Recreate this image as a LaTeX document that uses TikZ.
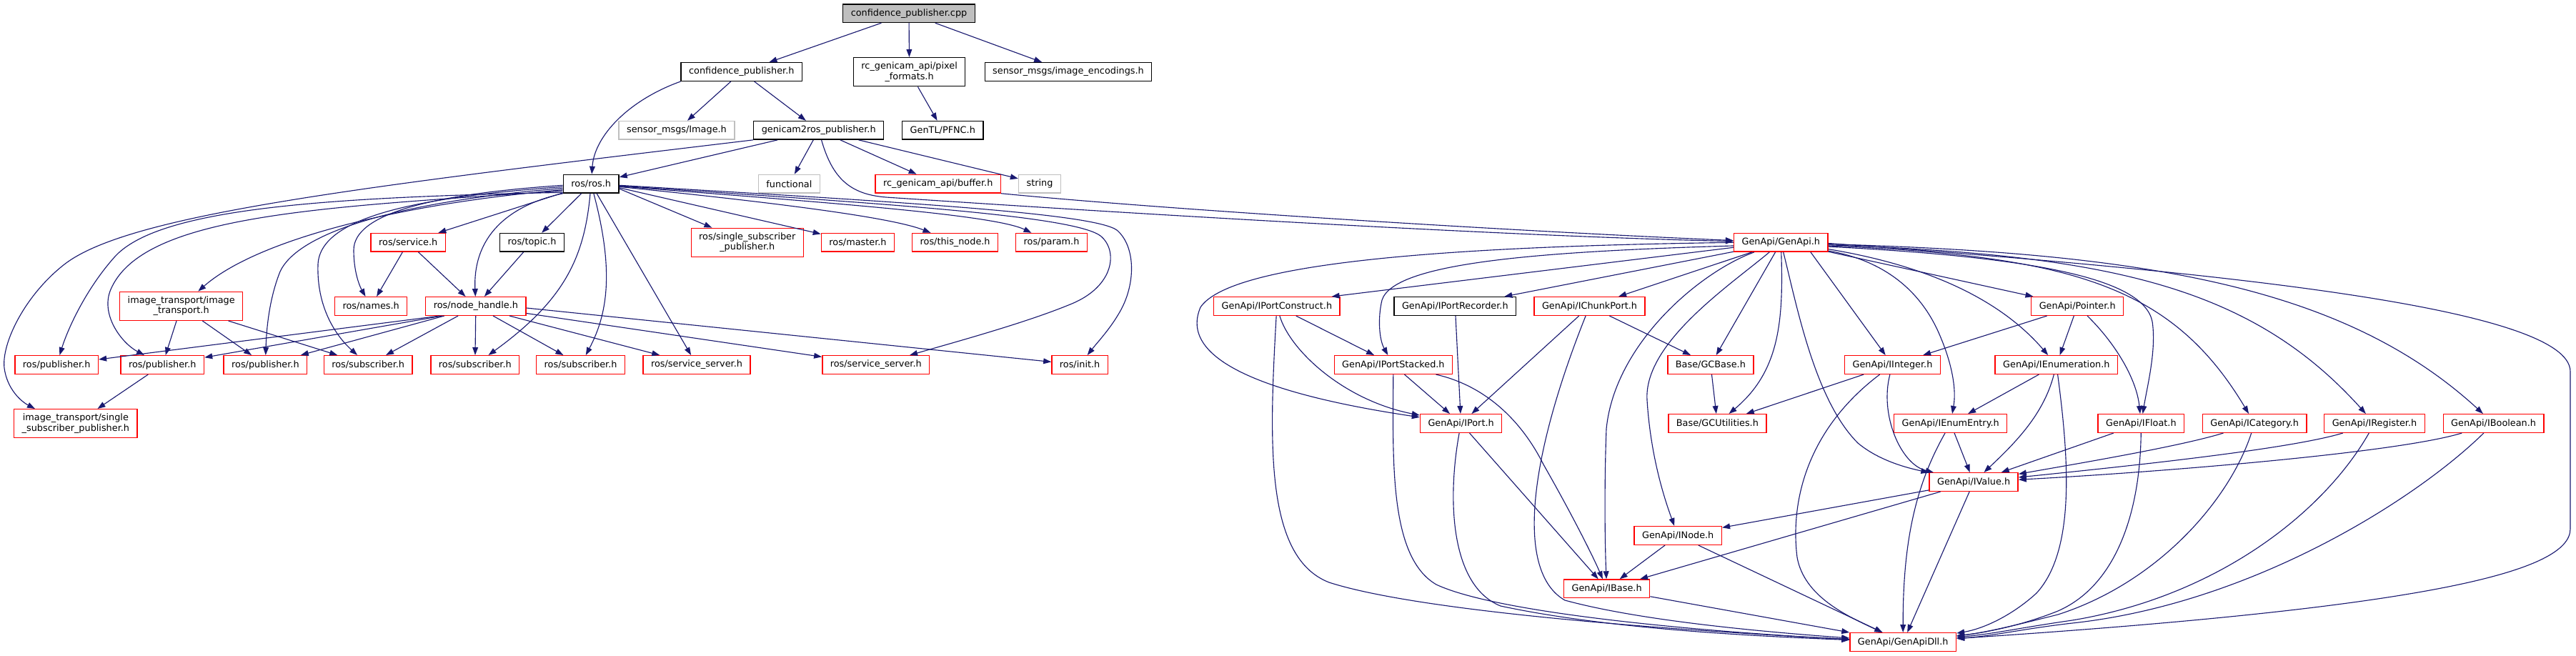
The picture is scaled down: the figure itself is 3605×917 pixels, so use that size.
\documentclass[tikz,border=0pt]{standalone}
\usepackage{fontspec}
\setmainfont{DejaVu Sans}
\usetikzlibrary{arrows.meta}

\begin{document}
\begin{tikzpicture}[
    x=0.01cm, y=-0.01cm,
    font=\fontsize{3.65}{4.1}\selectfont,
    hfile/.style={draw=black, fill=white, line width=0.4pt, align=center, inner xsep=0.11cm, inner ysep=0.06cm, minimum height=0.256cm},
    trunc/.style={hfile, draw=red},
    sysinc/.style={hfile, draw=black!25},
    srcfile/.style={hfile, fill=black!25},
    twoline/.style={minimum height=0.40cm},
    dep/.style={->, draw=depblue, line width=0.32pt, >={Triangle[length=0.11cm, width=0.078cm]}}
]
\definecolor{depblue}{RGB}{25,25,112}
\useasboundingbox (0,0) rectangle (3605,917);

\node[srcfile] (root) at (1272,18.7) {confidence\_publisher.cpp};
\node[hfile] (cph) at (1037.8,100.5) {confidence\_publisher.h};
\node[hfile, twoline] (pixfmt) at (1272.6,100.7) {rc\_genicam\_api/pixel\\\_formats.h};
\node[hfile] (imgenc) at (1495,100.5) {sensor\_msgs/image\_encodings.h};
\node[sysinc] (imgmsg) at (947,182.3) {sensor\_msgs/Image.h};
\node[hfile] (g2r) at (1145.7,182.3) {genicam2ros\_publisher.h};
\node[hfile] (pfnc) at (1319.3,182.3) {GenTL/PFNC.h};
\node[hfile] (ros) at (827.2,257.2) {ros/ros.h};
\node[sysinc] (functional) at (1104.4,257.2) {functional};
\node[trunc] (buffer) at (1312.7,257.2) {rc\_genicam\_api/buffer.h};
\node[sysinc] (string) at (1455,257.2) {string};
\node[trunc] (service) at (571.2,339.3) {ros/service.h};
\node[hfile] (topic) at (744.5,339.3) {ros/topic.h};
\node[trunc, twoline] (rossingle) at (1045.8,339.3) {ros/single\_subscriber\\\_publisher.h};
\node[trunc] (master) at (1200.5,339.3) {ros/master.h};
\node[trunc] (thisnode) at (1336.6,339.3) {ros/this\_node.h};
\node[trunc] (param) at (1471.5,339.3) {ros/param.h};
\node[trunc] (genapi) at (2492.3,339.3) {GenApi/GenApi.h};
\node[trunc, twoline] (imgtrans) at (253.7,428.3) {image\_transport/image\\\_transport.h};
\node[trunc] (names) at (519.2,428.5) {ros/names.h};
\node[trunc] (nh) at (665.9,428.5) {ros/node\_handle.h};
\node[trunc] (portcon) at (1786.9,428.5) {GenApi/IPortConstruct.h};
\node[hfile] (portrec) at (2036.3,428.5) {GenApi/IPortRecorder.h};
\node[trunc] (chunk) at (2224.5,428.5) {GenApi/IChunkPort.h};
\node[trunc] (pointer) at (2907.2,428.5) {GenApi/Pointer.h};
\node[trunc] (pubA) at (79.2,510.5) {ros/publisher.h};
\node[trunc] (pubB) at (227.3,510.5) {ros/publisher.h};
\node[trunc] (pubC) at (371.4,510.5) {ros/publisher.h};
\node[trunc] (subA) at (515.2,510.5) {ros/subscriber.h};
\node[trunc] (subB) at (664.8,510.5) {ros/subscriber.h};
\node[trunc] (subC) at (812.6,510.5) {ros/subscriber.h};
\node[trunc] (srvA) at (975,510.5) {ros/service\_server.h};
\node[trunc] (srvB) at (1225.8,510.5) {ros/service\_server.h};
\node[trunc] (init) at (1511.1,510.5) {ros/init.h};
\node[trunc] (portstk) at (1949.9,510.5) {GenApi/IPortStacked.h};
\node[trunc] (gcbase) at (2393.9,510.5) {Base/GCBase.h};
\node[trunc] (iint) at (2648.5,510.5) {GenApi/IInteger.h};
\node[trunc] (ienum) at (2877.8,510.5) {GenApi/IEnumeration.h};
\node[trunc, twoline] (itsingle) at (105.9,592.7) {image\_transport/single\\\_subscriber\_publisher.h};
\node[trunc] (iport) at (2044.6,592.5) {GenApi/IPort.h};
\node[trunc] (gcutil) at (2403.4,592.5) {Base/GCUtilities.h};
\node[trunc] (ienumentry) at (2729.7,592.5) {GenApi/IEnumEntry.h};
\node[trunc] (ifloat) at (2996.4,592.5) {GenApi/IFloat.h};
\node[trunc] (icat) at (3155.1,592.5) {GenApi/ICategory.h};
\node[trunc] (ireg) at (3323,592.5) {GenApi/IRegister.h};
\node[trunc] (ibool) at (3489.6,592.5) {GenApi/IBoolean.h};
\node[trunc] (ivalue) at (2762.1,674.5) {GenApi/IValue.h};
\node[trunc] (inode) at (2348.2,749.5) {GenApi/INode.h};
\node[trunc] (ibase) at (2248.6,823.8) {GenApi/IBase.h};
\node[trunc] (dll) at (2663.2,898.5) {GenApi/GenApiDll.h};

\draw[dep] (root) -- (cph);
\draw[dep] (root) -- (pixfmt);
\draw[dep] (root) -- (imgenc);
\draw[dep] (cph.south west) .. controls (880,140) and (832,190) .. (ros);
\draw[dep] (cph) -- (imgmsg);
\draw[dep] (cph) -- (g2r);
\draw[dep] (pixfmt) -- (pfnc);
\draw[dep] (g2r) -- (ros);
\draw[dep] (g2r) -- (functional);
\draw[dep] (g2r) -- (buffer);
\draw[dep] (g2r) -- (string);
\draw[dep] (g2r) .. controls (1165,250) and (1190,272) .. (1240,276) .. controls (1600,300) and (2100,330) .. (genapi);
\draw[dep] (buffer.south east) .. controls (1650,295) and (2150,325) .. (genapi);
\draw[dep] (g2r.south west) .. controls (500,262) and (180,300) .. (90,370) .. controls (35,413) and (2,480) .. (6,515) .. controls (10,545) and (30,562) .. (itsingle.160);

\draw[dep] (ros) -- (service);
\draw[dep] (ros) -- (topic);
\draw[dep] (ros.south west) .. controls (700,290) and (662,340) .. (nh);
\draw[dep] (ros.183) .. controls (600,272) and (495,300) .. (495,350) .. controls (495,380) and (503,400) .. (names);
\draw[dep] (ros.186) .. controls (600,275) and (448,300) .. (445,370) .. controls (443,430) and (470,470) .. (subA);
\draw[dep] (ros.189) .. controls (580,280) and (420,320) .. (392,380) .. controls (378,415) and (373,455) .. (pubC);
\draw[dep] (ros.192) .. controls (560,285) and (360,335) .. (imgtrans);
\draw[dep] (ros.194) .. controls (450,290) and (200,300) .. (155,405) .. controls (140,440) and (170,480) .. (pubB);
\draw[dep] (ros.197) .. controls (450,276) and (220,292) .. (160,360) .. controls (120,405) and (95,460) .. (pubA);
\draw[dep] (ros.-10) -- (rossingle);
\draw[dep] (ros.-8) -- (master);
\draw[dep] (ros.-6) .. controls (1100,285) and (1250,305) .. (thisnode);
\draw[dep] (ros.-5) .. controls (1150,283) and (1390,300) .. (param);
\draw[dep] (ros.-4) .. controls (1200,283) and (1500,300) .. (1540,330) .. controls (1565,350) and (1560,400) .. (1500,425) .. controls (1440,450) and (1350,475) .. (srvB);
\draw[dep] (ros.-3) .. controls (1250,282) and (1530,298) .. (1563,322) .. controls (1590,345) and (1590,400) .. (1565,440) .. controls (1552,462) and (1535,480) .. (init);
\draw[dep] (ros) -- (srvA);
\draw[dep] (ros) .. controls (860,380) and (850,440) .. (subC);
\draw[dep] (ros) .. controls (818,360) and (790,420) .. (subB);

\draw[dep] (service) -- (names);
\draw[dep] (service) -- (nh);
\draw[dep] (topic) -- (nh);
\draw[dep] (imgtrans) -- (pubB);
\draw[dep] (imgtrans) -- (pubC);
\draw[dep] (imgtrans) -- (subA);
\draw[dep] (nh.195) -- (pubA);
\draw[dep] (nh.196) -- (pubB);
\draw[dep] (nh.197) -- (pubC);
\draw[dep] (nh) -- (subA);
\draw[dep] (nh) -- (subB);
\draw[dep] (nh) -- (subC);
\draw[dep] (nh.-16) -- (srvA);
\draw[dep] (nh.-8) -- (srvB);
\draw[dep] (nh.-2) -- (init);
\draw[dep] (pubB) -- (itsingle);

\draw[dep] (genapi.180) .. controls (2000,345) and (1720,370) .. (1680,430) .. controls (1650,500) and (1760,550) .. (iport);
\draw[dep] (genapi.184) .. controls (2150,352) and (1950,368) .. (1934,420) .. controls (1928,445) and (1930,475) .. (portstk);
\draw[dep] (genapi.186) -- (portcon.10);
\draw[dep] (genapi.191) -- (portrec);
\draw[dep] (genapi) -- (chunk);
\draw[dep] (genapi) .. controls (2380,380) and (2260,480) .. (2248,600) .. controls (2245,680) and (2246,760) .. (ibase);
\draw[dep] (genapi) .. controls (2420,400) and (2300,480) .. (2305,560) .. controls (2310,640) and (2330,700) .. (inode);
\draw[dep] (genapi) -- (gcbase);
\draw[dep] (genapi) .. controls (2496,450) and (2490,520) .. (gcutil);
\draw[dep] (genapi) .. controls (2515,430) and (2540,560) .. (2600,620) .. controls (2630,645) and (2670,655) .. (ivalue);
\draw[dep] (genapi.-18) -- (iint);
\draw[dep] (genapi.-10) .. controls (2640,365) and (2690,410) .. (2715,470) .. controls (2732,510) and (2738,545) .. (ienumentry);
\draw[dep] (genapi.-8) .. controls (2700,372) and (2800,420) .. (ienum);
\draw[dep] (genapi.-11) -- (pointer);
\draw[dep] (genapi.-5) .. controls (2850,360) and (3000,390) .. (3012,450) .. controls (3018,490) and (3005,540) .. (ifloat);
\draw[dep] (genapi.-4) .. controls (2900,358) and (3040,400) .. (icat);
\draw[dep] (genapi.-3) .. controls (2950,356) and (3150,400) .. (ireg);
\draw[dep] (genapi.-2) .. controls (3000,354) and (3280,400) .. (ibool);
\draw[dep] (genapi.-1) .. controls (3100,380) and (3597,430) .. (3597,520) -- (3597,740) .. controls (3597,800) and (3400,850) .. (dll);

\draw[dep] (portcon) .. controls (1805,490) and (1880,560) .. (iport);
\draw[dep] (portcon) -- (portstk);
\draw[dep] (portcon) .. controls (1776,620) and (1770,780) .. (1860,815) .. controls (2000,860) and (2400,885) .. (dll);
\draw[dep] (portrec) -- (iport);
\draw[dep] (chunk) -- (iport);
\draw[dep] (chunk) -- (gcbase);
\draw[dep] (chunk) .. controls (2140,640) and (2120,800) .. (2190,840) .. controls (2300,870) and (2480,885) .. (dll);
\draw[dep] (portstk) -- (iport);
\draw[dep] (portstk) .. controls (2080,540) and (2130,590) .. (2160,650) .. controls (2200,720) and (2230,780) .. (ibase);
\draw[dep] (portstk) .. controls (1949,650) and (1945,780) .. (2010,818) .. controls (2100,860) and (2400,885) .. (dll);
\draw[dep] (iport) -- (ibase);
\draw[dep] (iport) .. controls (2025,700) and (2030,820) .. (2100,848) .. controls (2250,880) and (2450,890) .. (dll);
\draw[dep] (gcbase) -- (gcutil);
\draw[dep] (iint) -- (gcutil);
\draw[dep] (iint) .. controls (2530,600) and (2505,700) .. (2515,780) .. controls (2525,835) and (2585,862) .. (dll);
\draw[dep] (iint) .. controls (2630,580) and (2660,650) .. (ivalue);
\draw[dep] (inode) -- (ibase);
\draw[dep] (inode) -- (dll);
\draw[dep] (ibase) -- (dll);
\draw[dep] (ivalue) -- (inode);
\draw[dep] (ivalue) -- (ibase);
\draw[dep] (ivalue) -- (dll);
\draw[dep] (ienumentry) -- (ivalue);
\draw[dep] (ienumentry) .. controls (2680,680) and (2663,760) .. (dll);
\draw[dep] (pointer) -- (iint);
\draw[dep] (pointer) -- (ienum);
\draw[dep] (pointer) .. controls (2960,480) and (2990,530) .. (ifloat);
\draw[dep] (ienum) -- (ienumentry);
\draw[dep] (ienum) .. controls (2860,580) and (2820,620) .. (ivalue);
\draw[dep] (ienum) .. controls (2895,640) and (2905,770) .. (2850,830) .. controls (2815,862) and (2775,880) .. (dll);
\draw[dep] (ifloat) -- (ivalue);
\draw[dep] (ifloat) .. controls (2995,720) and (2960,820) .. (2880,855) .. controls (2830,875) and (2780,885) .. (dll);
\draw[dep] (icat) .. controls (3050,625) and (2900,650) .. (ivalue);
\draw[dep] (icat) .. controls (3120,700) and (3020,815) .. (2880,860) .. controls (2820,875) and (2780,885) .. (dll);
\draw[dep] (ireg) .. controls (3200,630) and (2950,655) .. (ivalue);
\draw[dep] (ireg) .. controls (3250,720) and (3100,835) .. (2900,868) .. controls (2830,878) and (2790,887) .. (dll);
\draw[dep] (ibool) .. controls (3350,635) and (3000,662) .. (ivalue);
\draw[dep] (ibool) .. controls (3380,700) and (3150,845) .. (2900,872) .. controls (2830,880) and (2790,890) .. (dll);
\end{tikzpicture}
\end{document}
